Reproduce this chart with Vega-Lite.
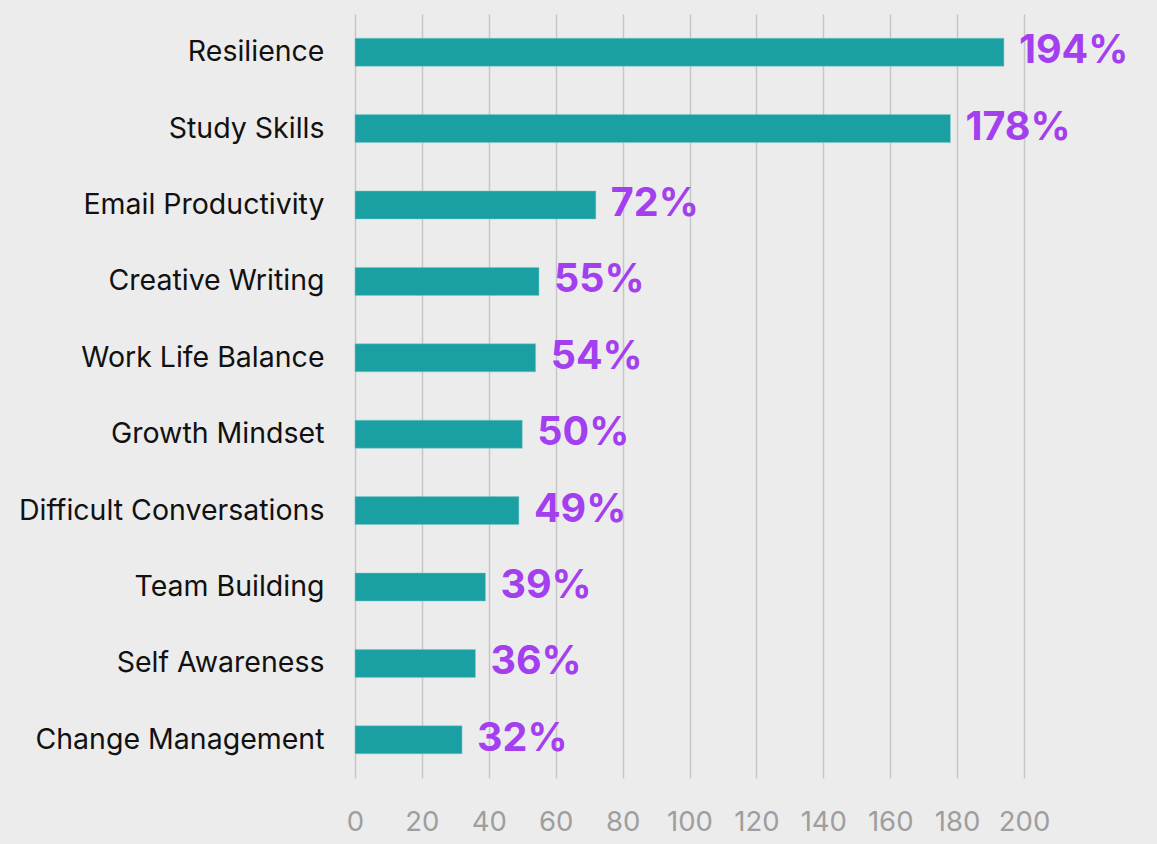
{
  "$schema": "https://vega.github.io/schema/vega-lite/v6.json",
  "autosize": "none",
  "width": 669,
  "height": 764,
  "padding": {"left": 355, "top": 14, "right": 133, "bottom": 66},
  "background": "#ececec",
  "config": {
    "view": {"stroke": null},
    "font": "Inter"
  },
  "data": {
    "values": [
      {"skill": "Resilience", "value": 194, "label": "194%"},
      {"skill": "Study Skills", "value": 178, "label": "178%"},
      {"skill": "Email Productivity", "value": 72, "label": "72%"},
      {"skill": "Creative Writing", "value": 55, "label": "55%"},
      {"skill": "Work Life Balance", "value": 54, "label": "54%"},
      {"skill": "Growth Mindset", "value": 50, "label": "50%"},
      {"skill": "Difficult Conversations", "value": 49, "label": "49%"},
      {"skill": "Team Building", "value": 39, "label": "39%"},
      {"skill": "Self Awareness", "value": 36, "label": "36%"},
      {"skill": "Change Management", "value": 32, "label": "32%"}
    ]
  },
  "encoding": {
    "y": {
      "field": "skill",
      "type": "nominal",
      "sort": null,
      "title": null,
      "axis": {
        "domain": false,
        "ticks": false,
        "labelPadding": 31,
        "labelFontSize": 28.5,
        "labelLimit": 400,
        "labelColor": "#111111",
        "labelFont": "Inter"
      }
    },
    "x": {
      "field": "value",
      "type": "quantitative",
      "scale": {"domain": [0, 200], "nice": false},
      "title": null,
      "axis": {
        "values": [0, 20, 40, 60, 80, 100, 120, 140, 160, 180, 200],
        "domain": false,
        "ticks": false,
        "grid": true,
        "gridColor": "#c6c6c6",
        "gridWidth": 1.5,
        "labelPadding": 30,
        "labelFontSize": 27.5,
        "labelOverlap": false,
        "labelFlush": false,
        "labelColor": "#9e9e9e",
        "labelFont": "Inter"
      }
    }
  },
  "layer": [
    {
      "mark": {"type": "bar", "color": "#1a9fa3", "size": 28, "stroke": "#7fc8c9", "strokeWidth": 0.5}
    },
    {
      "mark": {
        "type": "text",
        "align": "left",
        "baseline": "middle",
        "dx": 15,
        "dy": -1,
        "fontSize": 39.5,
        "fontWeight": "bold",
        "color": "#a43ff0",
        "font": "Inter"
      },
      "encoding": {
        "text": {"field": "label", "type": "nominal"}
      }
    }
  ]
}
